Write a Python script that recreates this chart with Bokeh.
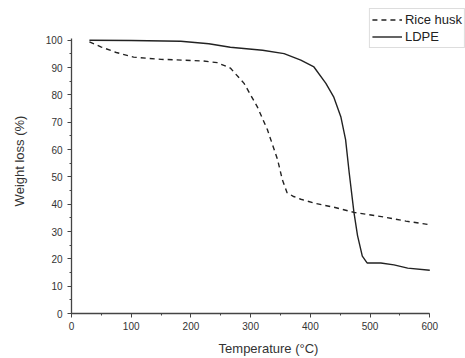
from bokeh.plotting import figure
from bokeh.models import Legend, LegendItem, Range1d, FixedTicker
from bokeh.embed import file_html
from bokeh.resources import INLINE

# Data
rice_temp = [30, 50, 75, 104, 150, 188, 220, 244, 266, 289, 311, 328, 345, 353, 361, 372, 384, 410, 439, 473, 523, 560, 600]
rice_weight = [99.4, 97.5, 95.5, 93.8, 93.0, 92.7, 92.4, 91.8, 89.8, 84.2, 75.7, 67.3, 56.4, 49.0, 44.2, 42.8, 41.8, 40.2, 38.9, 37.0, 35.3, 33.8, 32.5]

ldpe_temp = [30, 100, 183, 230, 266, 320, 356, 384, 406, 426, 439, 451, 459, 465, 473, 479, 487, 495, 518, 540, 563, 600]
ldpe_weight = [100.0, 99.9, 99.6, 98.7, 97.4, 96.3, 95.1, 92.7, 90.2, 84.2, 79.3, 72.0, 63.6, 51.6, 37.0, 28.5, 21.0, 18.5, 18.5, 17.8, 16.6, 15.8]

x_ticks = [0, 100, 200, 300, 400, 500, 600]
y_ticks = [0, 10, 20, 30, 40, 50, 60, 70, 80, 90, 100]

FONT = "Liberation Sans"
INK = "#222222"

p = figure(width=465, height=358, output_backend="svg", toolbar_location=None,
           x_range=Range1d(0, 659.8), y_range=Range1d(0, 111.6),
           min_border_left=71, min_border_right=0, min_border_top=8, min_border_bottom=43)

p.outline_line_color = None
p.grid.grid_line_color = None
p.background_fill_color = "white"
p.border_fill_color = "white"

r1 = p.line(rice_temp, rice_weight, line_color=INK, line_width=1.4, line_dash="5 4")
r2 = p.line(ldpe_temp, ldpe_weight, line_color=INK, line_width=1.4)

for ax in (p.xaxis[0], p.yaxis[0]):
    ax.axis_line_color = "#444444"
    ax.axis_line_width = 1.3
    ax.major_tick_line_color = "#444444"
    ax.minor_tick_line_color = "#444444"
    ax.major_tick_in = 0
    ax.major_tick_out = 4
    ax.minor_tick_in = 0
    ax.minor_tick_out = 2
    ax.major_label_text_font = FONT
    ax.major_label_text_font_size = "10px"
    ax.major_label_text_color = "#333333"
    ax.axis_label_text_font = FONT
    ax.axis_label_text_font_size = "13px"
    ax.axis_label_text_font_style = "normal"
    ax.axis_label_text_color = "#333333"

p.xaxis[0].bounds = (0, 600)
p.yaxis[0].bounds = (0, 100.6)
p.xaxis[0].ticker = FixedTicker(ticks=x_ticks, minor_ticks=list(range(0, 601, 50)))
p.yaxis[0].ticker = FixedTicker(ticks=y_ticks, minor_ticks=list(range(0, 101, 5)))
p.xaxis[0].axis_label = "Temperature (°C)"
p.yaxis[0].axis_label = "Weight loss (%)"
p.xaxis[0].major_label_standoff = 4
p.xaxis[0].axis_label_standoff = 8
p.yaxis[0].major_label_standoff = 5
p.yaxis[0].axis_label_standoff = 16

legend = Legend(items=[LegendItem(label="Rice husk", renderers=[r1]),
                       LegendItem(label="LDPE", renderers=[r2])],
                location="top_right")
legend.margin = 0
legend.padding = 2
legend.spacing = 0
legend.glyph_width = 30
legend.glyph_height = 17
legend.label_height = 17
legend.label_standoff = 3
legend.label_text_font = FONT
legend.label_text_font_size = "13px"
legend.label_text_color = "#222222"
legend.border_line_color = "#bbbbbb"
legend.border_line_width = 1
legend.background_fill_alpha = 1
p.add_layout(legend, "center")

open("out.html", "w").write(file_html(p, INLINE))
